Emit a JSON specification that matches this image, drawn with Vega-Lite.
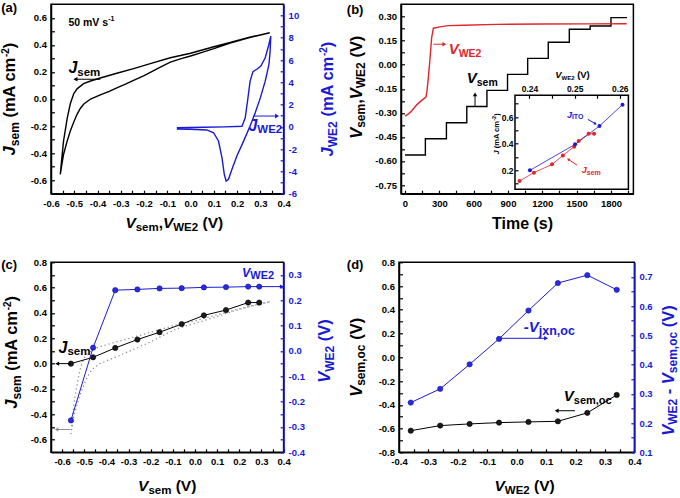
{
  "$schema": "https://vega.github.io/schema/vega-lite/v6.json",
  "background": "white",
  "padding": {"left": 0, "top": 1.3, "right": 0, "bottom": 0},
  "config": {
    "font": "Liberation Sans",
    "view": {"stroke": "black", "strokeWidth": 1.5},
    "axis": {"labelFont": "Liberation Sans", "labelFontWeight": "bold", "labelFontSize": 9.5, "labelColor": "black", "domainColor": "black", "domainWidth": 1.5, "tickColor": "black", "tickSize": -3.5, "tickWidth": 1.2, "grid": false, "labelPadding": 8, "labelOverlap": false, "labelFlush": false, "labelBound": false},
    "text": {"font": "Liberation Sans", "fontWeight": "bold", "baseline": "alphabetic", "align": "left", "color": "black"},
    "point": {"filled": true, "size": 26, "opacity": 1},
    "rule": {"strokeWidth": 1, "color": "black"}
  },
  "datasets": {
    "cvsem": [
      {"i":0,"v":-0.56,"j":-0.557},{"i":1,"v":-0.553,"j":-0.48},{"i":2,"v":-0.546,"j":-0.41},{"i":3,"v":-0.532,"j":-0.32},{"i":4,"v":-0.517,"j":-0.236},{"i":5,"v":-0.502,"j":-0.17},{"i":6,"v":-0.488,"j":-0.113},{"i":7,"v":-0.474,"j":-0.07},{"i":8,"v":-0.46,"j":-0.039},{"i":9,"v":-0.43,"j":0.0},{"i":10,"v":-0.388,"j":0.03},{"i":11,"v":-0.35,"j":0.057},{"i":12,"v":-0.317,"j":0.083},{"i":13,"v":-0.28,"j":0.11},{"i":14,"v":-0.245,"j":0.138},{"i":15,"v":-0.2,"j":0.172},{"i":16,"v":-0.173,"j":0.196},{"i":17,"v":-0.13,"j":0.235},{"i":18,"v":-0.087,"j":0.272},{"i":19,"v":-0.04,"j":0.298},{"i":20,"v":0.0,"j":0.318},{"i":21,"v":0.05,"j":0.345},{"i":22,"v":0.1,"j":0.372},{"i":23,"v":0.17,"j":0.413},{"i":24,"v":0.25,"j":0.452},{"i":25,"v":0.3,"j":0.472},{"i":26,"v":0.34,"j":0.49},
      {"i":27,"v":0.3,"j":0.474},{"i":28,"v":0.25,"j":0.455},{"i":29,"v":0.17,"j":0.418},{"i":30,"v":0.1,"j":0.386},{"i":31,"v":0.05,"j":0.362},{"i":32,"v":0.0,"j":0.338},{"i":33,"v":-0.087,"j":0.305},{"i":34,"v":-0.173,"j":0.262},{"i":35,"v":-0.245,"j":0.225},{"i":36,"v":-0.317,"j":0.19},{"i":37,"v":-0.388,"j":0.155},{"i":38,"v":-0.43,"j":0.133},{"i":39,"v":-0.46,"j":0.113},{"i":40,"v":-0.488,"j":0.075},{"i":41,"v":-0.502,"j":0.04},{"i":42,"v":-0.517,"j":-0.035},{"i":43,"v":-0.53,"j":-0.14},{"i":44,"v":-0.546,"j":-0.31},{"i":45,"v":-0.553,"j":-0.43},{"i":46,"v":-0.56,"j":-0.557}
    ],
    "cvwe2": [
      {"i":0,"v":-0.059,"j":-0.08},{"i":1,"v":0.056,"j":-0.04},{"i":2,"v":0.15,"j":0.0},{"i":3,"v":0.221,"j":0.05},{"i":4,"v":0.235,"j":0.82},{"i":5,"v":0.245,"j":2.32},{"i":6,"v":0.256,"j":4.11},{"i":7,"v":0.268,"j":4.95},{"i":8,"v":0.285,"j":5.17},{"i":9,"v":0.302,"j":5.46},{"i":10,"v":0.321,"j":6.2},{"i":11,"v":0.335,"j":7.26},{"i":12,"v":0.345,"j":8.15},
      {"i":13,"v":0.342,"j":6.8},{"i":14,"v":0.337,"j":5.6},{"i":15,"v":0.321,"j":4.1},{"i":16,"v":0.3,"j":2.6},{"i":17,"v":0.278,"j":1.26},{"i":18,"v":0.256,"j":0.07},{"i":19,"v":0.228,"j":-1.28},{"i":20,"v":0.199,"j":-2.62},{"i":21,"v":0.178,"j":-3.8},{"i":22,"v":0.163,"j":-4.7},{"i":23,"v":0.153,"j":-4.86},{"i":24,"v":0.145,"j":-4.26},{"i":25,"v":0.135,"j":-2.77},{"i":26,"v":0.12,"j":-1.27},{"i":27,"v":0.099,"j":-0.53},{"i":28,"v":0.07,"j":-0.28},{"i":29,"v":-0.001,"j":-0.22},{"i":30,"v":-0.059,"j":-0.19}
    ],
    "vsemt": [{"t":0,"v":-0.563},{"t":178,"v":-0.461},{"t":362,"v":-0.362},{"t":540,"v":-0.26},{"t":716,"v":-0.16},{"t":896,"v":-0.06},{"t":1072,"v":0.04},{"t":1252,"v":0.14},{"t":1436,"v":0.221},{"t":1618,"v":0.242},{"t":1800,"v":0.294},{"t":1940,"v":0.294}],
    "vwe2t": [{"t":0,"v":-0.32},{"t":30,"v":-0.306},{"t":58,"v":-0.288},{"t":102,"v":-0.25},{"t":146,"v":-0.222},{"t":184,"v":-0.2},{"t":194,"v":-0.15},{"t":204,"v":-0.08},{"t":219,"v":0.044},{"t":233,"v":0.169},{"t":248,"v":0.228},{"t":306,"v":0.236},{"t":379,"v":0.244},{"t":510,"v":0.246},{"t":801,"v":0.252},{"t":1200,"v":0.254},{"t":1600,"v":0.255},{"t":1937,"v":0.256}],
    "insetsem": [{"v":0.2378,"j":0.12},{"v":0.241,"j":0.183},{"v":0.245,"j":0.245},{"v":0.2474,"j":0.312},{"v":0.2499,"j":0.378},{"v":0.2509,"j":0.42},{"v":0.2531,"j":0.475},{"v":0.2543,"j":0.475}],
    "insetito": [{"v":0.2401,"j":0.2},{"v":0.2501,"j":0.395},{"v":0.2555,"j":0.533},{"v":0.2606,"j":0.693}],
    "cpts": [{"vs":-0.56,"js":0.0,"vw":-0.274},{"vs":-0.46,"js":0.05,"vw":0.013},{"vs":-0.36,"js":0.124,"vw":0.24},{"vs":-0.26,"js":0.19,"vw":0.243},{"vs":-0.16,"js":0.248,"vw":0.247},{"vs":-0.06,"js":0.312,"vw":0.248},{"vs":0.04,"js":0.381,"vw":0.251},{"vs":0.14,"js":0.423,"vw":0.252},{"vs":0.24,"js":0.482,"vw":0.254},{"vs":0.29,"js":0.482,"vw":0.254}],
    "dpts": [{"vw":-0.36,"vsoc":-0.618,"vj":0.27},{"vw":-0.26,"vsoc":-0.575,"vj":0.317},{"vw":-0.16,"vsoc":-0.561,"vj":0.401},{"vw":-0.06,"vsoc":-0.55,"vj":0.488},{"vw":0.04,"vsoc":-0.544,"vj":0.585},{"vw":0.14,"vsoc":-0.539,"vj":0.679},{"vw":0.24,"vsoc":-0.468,"vj":0.706},{"vw":0.34,"vsoc":-0.317,"vj":0.656}]
  },
  "spacing": 22,
  "vconcat": [
    {
      "spacing": 6,
      "hconcat": [
        {
          "width": 232.6, "height": 189.4,
          "resolve": {"scale": {"y": "independent"}},
          "layer": [
            {"layer": [
              {"data": {"name": "cvsem"}, "mark": {"type": "line", "color": "black", "strokeWidth": 1.4},
               "encoding": {
                 "x": {"field": "v", "type": "quantitative", "scale": {"domain": [-0.6, 0.4], "nice": false, "zero": false}, "axis": {"title": null, "tickCount": 1000, "labelOverlap": false, "values": [-0.6,-0.55,-0.5,-0.45,-0.4,-0.35,-0.3,-0.25,-0.2,-0.15,-0.1,-0.05,0,0.05,0.1,0.15,0.2,0.25,0.3,0.35,0.4], "labelExpr": "abs(datum.value*10-round(datum.value*10))<0.01 ? replace(format(datum.value,'.1f'),'−','-') : ''"}},
                 "y": {"field": "j", "type": "quantitative", "scale": {"domain": [-0.7, 0.7], "nice": false, "zero": false}, "axis": {"title": null, "tickCount": 1000, "labelOverlap": false, "values": [-0.6,-0.5,-0.4,-0.3,-0.2,-0.1,0,0.1,0.2,0.3,0.4,0.5,0.6], "labelExpr": "abs(datum.value*5-round(datum.value*5))<0.01 ? replace(format(datum.value,'.1f'),'−','-') : ''"}},
                 "order": {"field": "i", "type": "quantitative"}}},
              {"data": {"values": [{}]}, "layer": [
                {"mark": {"type": "text", "text": "(a)", "fontSize": 13, "align": "right", "baseline": "top", "dx": -34, "dy": -2}, "encoding": {"x": {"datum": -0.6}, "y": {"datum": 0.7}}},
                {"encoding": {"x": {"datum": -0.525}, "y": {"datum": 0.54}}, "layer": [
                  {"mark": {"type": "text", "text": "50 mV s", "fontSize": 10.5}},
                  {"mark": {"type": "text", "text": "-1", "fontSize": 7, "dx": 39.7, "dy": -4.5}}]},
                {"encoding": {"x": {"datum": -0.487}, "y": {"datum": 0.192}}, "layer": [
                  {"mark": {"type": "text", "text": "J", "fontSize": 16, "fontStyle": "italic", "align": "right"}},
                  {"mark": {"type": "text", "text": "sem", "fontSize": 11.5, "dy": 2.5}}]},
                {"mark": {"type": "rule", "color": "black"}, "encoding": {"x": {"datum": -0.388}, "x2": {"datum": -0.495}, "y": {"datum": 0.146}}},
                {"mark": {"type": "point", "shape": "triangle-left", "size": 22, "color": "black"}, "encoding": {"x": {"datum": -0.495}, "y": {"datum": 0.146}}},
                {"encoding": {"x": {"datum": -0.6}, "y": {"datum": 0}}, "layer": [
                  {"mark": {"type": "text", "text": "J", "fontSize": 16.5, "fontStyle": "italic", "angle": 270, "dx": -56.4, "dy": -35.7}},
                  {"mark": {"type": "text", "text": "sem", "fontSize": 12, "angle": 270, "dx": -47.2, "dy": -32.2}},
                  {"mark": {"type": "text", "text": "(mA cm", "fontSize": 16.5, "angle": 270, "dx": -18.6, "dy": -35.7}},
                  {"mark": {"type": "text", "text": "-2", "fontSize": 10, "angle": 270, "dx": 41.9, "dy": -42}},
                  {"mark": {"type": "text", "text": ")", "fontSize": 16.5, "angle": 270, "dx": 50.8, "dy": -35.7}}]},
                {"encoding": {"x": {"datum": -0.07}, "y": {"datum": -0.7}}, "layer": [
                  {"mark": {"type": "text", "text": "V", "fontSize": 15.5, "fontStyle": "italic", "dx": -48.9, "dy": 34.3}},
                  {"mark": {"type": "text", "text": "sem", "fontSize": 11.5, "dx": -38.6, "dy": 37.3}},
                  {"mark": {"type": "text", "text": ",", "fontSize": 15.5, "dx": -15.6, "dy": 34.3}},
                  {"mark": {"type": "text", "text": "V", "fontSize": 15.5, "fontStyle": "italic", "dx": -11.3, "dy": 34.3}},
                  {"mark": {"type": "text", "text": "WE2", "fontSize": 11.5, "dx": -1.0, "dy": 37.3}},
                  {"mark": {"type": "text", "text": "(V)", "fontSize": 15.5, "dx": 28.2, "dy": 34.3}}]}
              ]}
            ]},
            {"layer": [
              {"data": {"name": "cvwe2"}, "mark": {"type": "line", "color": "#1a1ad6", "strokeWidth": 1.4},
               "encoding": {
                 "x": {"field": "v", "type": "quantitative", "scale": {"domain": [-0.6, 0.4], "nice": false, "zero": false}},
                 "y": {"field": "j", "type": "quantitative", "scale": {"domain": [-6, 11], "nice": false, "zero": false}, "axis": {"title": null, "tickCount": 1000, "labelOverlap": false, "orient": "right", "values": [-6,-5,-4,-3,-2,-1,0,1,2,3,4,5,6,7,8,9,10], "labelExpr": "abs(datum.value%2)<0.01 ? replace(format(datum.value,'d'),'−','-') : ''", "domainColor": "#1a1ad6", "tickColor": "#1a1ad6", "labelColor": "#1a1ad6"}},
                 "order": {"field": "i", "type": "quantitative"}}},
              {"data": {"values": [{}]}, "layer": [
                {"encoding": {"x": {"datum": 0.287}, "y": {"datum": -0.37}}, "layer": [
                  {"mark": {"type": "text", "text": "J", "fontSize": 16, "fontStyle": "italic", "align": "right", "color": "#1a1ad6"}},
                  {"mark": {"type": "text", "text": "WE2", "fontSize": 11.5, "dy": 2.5, "color": "#1a1ad6"}}]},
                {"mark": {"type": "rule", "color": "#1a1ad6"}, "encoding": {"x": {"datum": 0.271}, "x2": {"datum": 0.372}, "y": {"datum": 0.97}}},
                {"mark": {"type": "point", "shape": "triangle-right", "size": 22, "color": "#1a1ad6"}, "encoding": {"x": {"datum": 0.372}, "y": {"datum": 0.97}}},
                {"encoding": {"x": {"datum": 0.4}, "y": {"datum": 2.5}}, "layer": [
                  {"mark": {"type": "text", "text": "J", "fontSize": 16.5, "fontStyle": "italic", "angle": 270, "dx": -57.4, "dy": 49.7, "color": "#1a1ad6"}},
                  {"mark": {"type": "text", "text": "WE2", "fontSize": 12, "angle": 270, "dx": -48.2, "dy": 53.2, "color": "#1a1ad6"}},
                  {"mark": {"type": "text", "text": "(mA cm", "fontSize": 16.5, "angle": 270, "dx": -17.6, "dy": 49.7, "color": "#1a1ad6"}},
                  {"mark": {"type": "text", "text": "-2", "fontSize": 10, "angle": 270, "dx": 42.9, "dy": 43.7, "color": "#1a1ad6"}},
                  {"mark": {"type": "text", "text": ")", "fontSize": 16.5, "angle": 270, "dx": 51.8, "dy": 49.7, "color": "#1a1ad6"}}]}
              ]}
            ]}
          ]
        },
        {
          "width": 232.4, "height": 189.4,
          "resolve": {"scale": {"x": "independent", "y": "independent"}},
          "layer": [
            {"layer": [
              {"data": {"name": "vsemt"}, "mark": {"type": "line", "color": "black", "strokeWidth": 1.4, "interpolate": "step-after"},
               "encoding": {
                 "x": {"field": "t", "type": "quantitative", "scale": {"domain": [-35, 1996], "nice": false, "zero": false}, "axis": {"title": null, "tickCount": 1000, "labelOverlap": false, "values": [0,150,300,450,600,750,900,1050,1200,1350,1500,1650,1800,1950], "labelExpr": "datum.value%300==0 ? format(datum.value,'d') : ''"}},
                 "y": {"field": "v", "type": "quantitative", "scale": {"domain": [-0.804, 0.377], "nice": false, "zero": false}, "axis": {"title": null, "tickCount": 1000, "labelOverlap": false, "values": [-0.75,-0.675,-0.6,-0.525,-0.45,-0.375,-0.3,-0.225,-0.15,-0.075,0,0.075,0.15,0.225,0.3], "labelExpr": "abs(datum.value/0.15-round(datum.value/0.15))<0.01 ? replace(format(datum.value,'.2f'),'−','-') : ''"}}}},
              {"data": {"name": "vwe2t"}, "mark": {"type": "line", "color": "#e3242b", "strokeWidth": 1.4},
               "encoding": {
                 "x": {"field": "t", "type": "quantitative", "scale": {"domain": [-35, 1996], "nice": false, "zero": false}},
                 "y": {"field": "v", "type": "quantitative", "scale": {"domain": [-0.804, 0.377], "nice": false, "zero": false}}}},
              {"data": {"values": [{}]}, "layer": [
                {"mark": {"type": "text", "text": "(b)", "fontSize": 13, "align": "right", "baseline": "top", "dx": -37.6, "dy": 0}, "encoding": {"x": {"datum": -35}, "y": {"datum": 0.377}}},
                {"encoding": {"x": {"datum": 469}, "y": {"datum": 0.065}}, "layer": [
                  {"mark": {"type": "text", "text": "V", "fontSize": 15, "fontStyle": "italic", "align": "right", "color": "#e3242b"}},
                  {"mark": {"type": "text", "text": "WE2", "fontSize": 10.5, "dy": 3, "color": "#e3242b"}}]},
                {"mark": {"type": "rule", "color": "#e3242b"}, "encoding": {"x": {"datum": 248}, "x2": {"datum": 344}, "y": {"datum": 0.128}}},
                {"mark": {"type": "point", "shape": "triangle-right", "size": 20, "color": "#e3242b"}, "encoding": {"x": {"datum": 344}, "y": {"datum": 0.128}}},
                {"encoding": {"x": {"datum": 627}, "y": {"datum": -0.112}}, "layer": [
                  {"mark": {"type": "text", "text": "V", "fontSize": 15, "fontStyle": "italic", "align": "right"}},
                  {"mark": {"type": "text", "text": "sem", "fontSize": 10.5, "dy": 3}}]},
                {"mark": {"type": "rule", "color": "black"}, "encoding": {"x": {"datum": 612}, "y": {"datum": -0.26}, "y2": {"datum": -0.185}}},
                {"mark": {"type": "point", "shape": "triangle-up", "size": 20, "color": "black"}, "encoding": {"x": {"datum": 612}, "y": {"datum": -0.185}}},
                {"encoding": {"x": {"datum": -35}, "y": {"datum": -0.14}}, "layer": [
                  {"mark": {"type": "text", "text": "V", "fontSize": 16.5, "fontStyle": "italic", "angle": 270, "dx": -51.6, "dy": -39.3}},
                  {"mark": {"type": "text", "text": "sem", "fontSize": 12, "angle": 270, "dx": -40.6, "dy": -35.8}},
                  {"mark": {"type": "text", "text": ",", "fontSize": 16.5, "angle": 270, "dx": -16.6, "dy": -39.3}},
                  {"mark": {"type": "text", "text": "V", "fontSize": 16.5, "fontStyle": "italic", "angle": 270, "dx": -12.0, "dy": -39.3}},
                  {"mark": {"type": "text", "text": "WE2", "fontSize": 12, "angle": 270, "dx": -1.0, "dy": -35.8}},
                  {"mark": {"type": "text", "text": "(V)", "fontSize": 16.5, "angle": 270, "dx": 29.6, "dy": -39.3}}]},
                {"mark": {"type": "text", "text": "Time (s)", "fontSize": 16, "align": "center", "dy": 35}, "encoding": {"x": {"datum": 1027}, "y": {"datum": -0.804}}}
              ]}
            ]},
            {"layer": [
              {"data": {"values": [{}]}, "mark": {"type": "rect", "fill": "white", "stroke": "black", "strokeWidth": 1.5},
               "encoding": {"x": {"datum": 0.2368}, "x2": {"datum": 0.2619}, "y": {"datum": 0.058}, "y2": {"datum": 0.763}}},
              {"data": {"name": "insetsem"}, "mark": {"type": "line", "color": "#e3242b", "strokeWidth": 0.8},
               "encoding": {
                 "x": {"field": "v", "type": "quantitative", "scale": {"domain": [0.2368, 0.2619], "range": [114, 227.4], "nice": false, "zero": false}, "axis": {"title": null, "tickCount": 1000, "labelOverlap": false, "orient": "top", "offset": -91, "zindex": 1, "domain": false, "tickSize": -3, "labelPadding": 5, "labelFontSize": 8.5, "values": [0.24,0.245,0.25,0.255,0.26], "labelExpr": "abs(datum.value*100-round(datum.value*100))<0.01 ? format(datum.value,'.2f') : ''"}},
                 "y": {"field": "j", "type": "quantitative", "scale": {"domain": [0.058, 0.763], "range": [185, 91], "nice": false, "zero": false}, "axis": {"title": null, "tickCount": 1000, "labelOverlap": false, "orient": "left", "offset": -114, "zindex": 1, "domain": false, "tickSize": -3, "labelPadding": 5, "labelFontSize": 8.5, "values": [0.1,0.2,0.3,0.4,0.5,0.6,0.7], "labelExpr": "abs(datum.value*5-round(datum.value*5))<0.01 ? format(datum.value,'.1f') : ''"}}}},
              {"data": {"name": "insetito"}, "mark": {"type": "line", "color": "#1a1ad6", "strokeWidth": 0.8},
               "encoding": {"x": {"field": "v", "type": "quantitative"}, "y": {"field": "j", "type": "quantitative"}}},
              {"data": {"name": "insetsem"}, "mark": {"type": "point", "color": "#e3242b", "size": 16},
               "encoding": {"x": {"field": "v", "type": "quantitative"}, "y": {"field": "j", "type": "quantitative"}}},
              {"data": {"name": "insetito"}, "mark": {"type": "point", "color": "#1a1ad6", "size": 16},
               "encoding": {"x": {"field": "v", "type": "quantitative"}, "y": {"field": "j", "type": "quantitative"}}},
              {"data": {"values": [{}]}, "layer": [
                {"encoding": {"x": {"datum": 0.2471}, "y": {"datum": 0.763}}, "layer": [
                  {"mark": {"type": "text", "text": "V", "fontSize": 9.5, "fontStyle": "italic", "align": "right", "dy": -17.3}},
                  {"mark": {"type": "text", "text": "WE2", "fontSize": 6, "dy": -15.5}},
                  {"mark": {"type": "text", "text": "(V)", "fontSize": 9.5, "dx": 15.6, "dy": -17.3}}]},
                {"encoding": {"x": {"datum": 0.2368}, "y": {"datum": 0.473}}, "layer": [
                  {"mark": {"type": "text", "text": "J", "fontSize": 7.5, "fontStyle": "italic", "angle": 270, "dx": -20.6, "dy": -16}},
                  {"mark": {"type": "text", "text": "(mA cm", "fontSize": 7.5, "angle": 270, "dx": -14.3, "dy": -16}},
                  {"mark": {"type": "text", "text": "-2", "fontSize": 5.5, "angle": 270, "dx": 13.2, "dy": -19}},
                  {"mark": {"type": "text", "text": ")", "fontSize": 7.5, "angle": 270, "dx": 18.1, "dy": -16}}]},
                {"encoding": {"x": {"datum": 0.2494}, "y": {"datum": 0.593}}, "layer": [
                  {"mark": {"type": "text", "text": "J", "fontSize": 9, "fontStyle": "italic", "align": "right", "color": "#1a1ad6"}},
                  {"mark": {"type": "text", "text": "ITO", "fontSize": 7, "dy": 1.5, "color": "#1a1ad6"}}]},
                {"mark": {"type": "rule", "color": "#1a1ad6"}, "encoding": {"x": {"datum": 0.2529}, "x2": {"datum": 0.2546}, "y": {"datum": 0.583}, "y2": {"datum": 0.55}}},
                {"mark": {"type": "point", "shape": "triangle-right", "size": 12, "angle": 30, "color": "#1a1ad6"}, "encoding": {"x": {"datum": 0.2546}, "y": {"datum": 0.55}}},
                {"encoding": {"x": {"datum": 0.2527}, "y": {"datum": 0.18}}, "layer": [
                  {"mark": {"type": "text", "text": "J", "fontSize": 9, "fontStyle": "italic", "align": "right", "color": "#e3242b"}},
                  {"mark": {"type": "text", "text": "sem", "fontSize": 7, "dy": 1.5, "color": "#e3242b"}}]},
                {"mark": {"type": "rule", "color": "#e3242b"}, "encoding": {"x": {"datum": 0.2505}, "x2": {"datum": 0.2486}, "y": {"datum": 0.24}, "y2": {"datum": 0.283}}},
                {"mark": {"type": "point", "shape": "triangle-left", "size": 12, "angle": 34, "color": "#e3242b"}, "encoding": {"x": {"datum": 0.2486}, "y": {"datum": 0.283}}}
              ]}
            ]}
          ]
        }
      ]
    },
    {
      "spacing": 9,
      "hconcat": [
        {
          "width": 232.6, "height": 190,
          "resolve": {"scale": {"y": "independent"}},
          "layer": [
            {"layer": [
              {"data": {"name": "cvsem"}, "mark": {"type": "line", "color": "#8c8c8c", "strokeWidth": 1.2, "strokeDash": [1.3, 2.8]},
               "encoding": {
                 "x": {"field": "v", "type": "quantitative", "scale": {"domain": [-0.65, 0.4], "nice": false, "zero": false}, "axis": {"title": null, "tickCount": 1000, "labelOverlap": false, "values": [-0.6,-0.55,-0.5,-0.45,-0.4,-0.35,-0.3,-0.25,-0.2,-0.15,-0.1,-0.05,0,0.05,0.1,0.15,0.2,0.25,0.3,0.35,0.4], "labelExpr": "abs(datum.value*10-round(datum.value*10))<0.01 ? replace(format(datum.value,'.1f'),'−','-') : ''"}},
                 "y": {"field": "j", "type": "quantitative", "scale": {"domain": [-0.7, 0.8], "nice": false, "zero": false}, "axis": {"title": null, "tickCount": 1000, "labelOverlap": false, "values": [-0.6,-0.5,-0.4,-0.3,-0.2,-0.1,0,0.1,0.2,0.3,0.4,0.5,0.6,0.7,0.8], "labelExpr": "abs(datum.value*5-round(datum.value*5))<0.01 ? replace(format(datum.value,'.1f'),'−','-') : ''"}},
                 "order": {"field": "i", "type": "quantitative"}}},
              {"data": {"name": "cpts"}, "mark": {"type": "line", "color": "black", "strokeWidth": 1},
               "encoding": {"x": {"field": "vs", "type": "quantitative"}, "y": {"field": "js", "type": "quantitative"}}},
              {"data": {"name": "cpts"}, "mark": {"type": "point", "color": "#1a1a1a", "stroke": "black", "strokeWidth": 0.6, "size": 28},
               "encoding": {"x": {"field": "vs", "type": "quantitative"}, "y": {"field": "js", "type": "quantitative"}}},
              {"data": {"values": [{}]}, "layer": [
                {"mark": {"type": "text", "text": "(c)", "fontSize": 13, "align": "right", "baseline": "top", "dx": -34, "dy": -3.3}, "encoding": {"x": {"datum": -0.65}, "y": {"datum": 0.8}}},
                {"encoding": {"x": {"datum": -0.576}, "y": {"datum": 0.085}}, "layer": [
                  {"mark": {"type": "text", "text": "J", "fontSize": 16, "fontStyle": "italic", "align": "right"}},
                  {"mark": {"type": "text", "text": "sem", "fontSize": 11.5, "dy": 2.5}}]},
                {"mark": {"type": "rule", "color": "black"}, "encoding": {"x": {"datum": -0.56}, "x2": {"datum": -0.622}, "y": {"datum": 0}}},
                {"mark": {"type": "point", "shape": "triangle-left", "size": 20, "color": "black"}, "encoding": {"x": {"datum": -0.622}, "y": {"datum": 0}}},
                {"mark": {"type": "rule", "color": "#8c8c8c"}, "encoding": {"x": {"datum": -0.563}, "x2": {"datum": -0.625}, "y": {"datum": -0.52}}},
                {"mark": {"type": "point", "shape": "triangle-left", "size": 18, "color": "#8c8c8c"}, "encoding": {"x": {"datum": -0.625}, "y": {"datum": -0.52}}},
                {"encoding": {"x": {"datum": -0.65}, "y": {"datum": 0.09}}, "layer": [
                  {"mark": {"type": "text", "text": "J", "fontSize": 16.5, "fontStyle": "italic", "angle": 270, "dx": -56.4, "dy": -34}},
                  {"mark": {"type": "text", "text": "sem", "fontSize": 12, "angle": 270, "dx": -47.2, "dy": -30.5}},
                  {"mark": {"type": "text", "text": "(mA cm", "fontSize": 16.5, "angle": 270, "dx": -18.6, "dy": -34}},
                  {"mark": {"type": "text", "text": "-2", "fontSize": 10, "angle": 270, "dx": 41.9, "dy": -40.3}},
                  {"mark": {"type": "text", "text": ")", "fontSize": 16.5, "angle": 270, "dx": 50.8, "dy": -34}}]},
                {"encoding": {"x": {"datum": -0.125}, "y": {"datum": -0.7}}, "layer": [
                  {"mark": {"type": "text", "text": "V", "fontSize": 15.5, "fontStyle": "italic", "dx": -29.2, "dy": 38.5}},
                  {"mark": {"type": "text", "text": "sem", "fontSize": 11.5, "dx": -18.9, "dy": 41.5}},
                  {"mark": {"type": "text", "text": "(V)", "fontSize": 15.5, "dx": 8.4, "dy": 38.5}}]}
              ]}
            ]},
            {"layer": [
              {"data": {"name": "cpts"}, "mark": {"type": "line", "color": "#1a1ad6", "strokeWidth": 1},
               "encoding": {
                 "x": {"field": "vs", "type": "quantitative", "scale": {"domain": [-0.65, 0.4], "nice": false, "zero": false}},
                 "y": {"field": "vw", "type": "quantitative", "scale": {"domain": [-0.4, 0.35], "nice": false, "zero": false}, "axis": {"title": null, "tickCount": 1000, "labelOverlap": false, "orient": "right", "values": [-0.4,-0.35,-0.3,-0.25,-0.2,-0.15,-0.1,-0.05,0,0.05,0.1,0.15,0.2,0.25,0.3], "labelExpr": "abs(datum.value*10-round(datum.value*10))<0.01 ? replace(format(datum.value,'.1f'),'−','-') : ''", "domainColor": "#1a1ad6", "tickColor": "#1a1ad6", "labelColor": "#1a1ad6"}}}},
              {"data": {"name": "cpts"}, "mark": {"type": "point", "color": "#2a2ae0", "stroke": "#1010a0", "strokeWidth": 0.6, "size": 28},
               "encoding": {"x": {"field": "vs", "type": "quantitative"}, "y": {"field": "vw", "type": "quantitative"}}},
              {"data": {"values": [{}]}, "layer": [
                {"encoding": {"x": {"datum": 0.25}, "y": {"datum": 0.292}}, "layer": [
                  {"mark": {"type": "text", "text": "V", "fontSize": 12.5, "fontStyle": "italic", "align": "right", "color": "#1a1ad6"}},
                  {"mark": {"type": "text", "text": "WE2", "fontSize": 11, "dy": 2.5, "color": "#1a1ad6"}}]},
                {"mark": {"type": "rule", "color": "#1a1ad6"}, "encoding": {"x": {"datum": 0.29}, "x2": {"datum": 0.392}, "y": {"datum": 0.254}}},
                {"mark": {"type": "point", "shape": "triangle-right", "size": 20, "color": "#1a1ad6"}, "encoding": {"x": {"datum": 0.392}, "y": {"datum": 0.254}}},
                {"encoding": {"x": {"datum": 0.4}, "y": {"datum": 0.0}}, "layer": [
                  {"mark": {"type": "text", "text": "V", "fontSize": 16.5, "fontStyle": "italic", "angle": 270, "dx": -31.8, "dy": 46.7, "color": "#1a1ad6"}},
                  {"mark": {"type": "text", "text": "WE2", "fontSize": 12, "angle": 270, "dx": -20.8, "dy": 50.2, "color": "#1a1ad6"}},
                  {"mark": {"type": "text", "text": "(V)", "fontSize": 16.5, "angle": 270, "dx": 9.8, "dy": 46.7, "color": "#1a1ad6"}}]}
              ]}
            ]}
          ]
        },
        {
          "width": 235.4, "height": 190,
          "resolve": {"scale": {"y": "independent"}},
          "layer": [
            {"layer": [
              {"data": {"name": "dpts"}, "mark": {"type": "line", "color": "black", "strokeWidth": 1},
               "encoding": {
                 "x": {"field": "vw", "type": "quantitative", "scale": {"domain": [-0.4, 0.4], "nice": false, "zero": false}, "axis": {"title": null, "tickCount": 1000, "labelOverlap": false, "values": [-0.4,-0.35,-0.3,-0.25,-0.2,-0.15,-0.1,-0.05,0,0.05,0.1,0.15,0.2,0.25,0.3,0.35,0.4], "labelExpr": "abs(datum.value*10-round(datum.value*10))<0.01 ? replace(format(datum.value,'.1f'),'−','-') : ''"}},
                 "y": {"field": "vsoc", "type": "quantitative", "scale": {"domain": [-0.8, 0.8], "nice": false, "zero": false}, "axis": {"title": null, "tickCount": 1000, "labelOverlap": false, "values": [-0.8,-0.7,-0.6,-0.5,-0.4,-0.3,-0.2,-0.1,0,0.1,0.2,0.3,0.4,0.5,0.6,0.7,0.8], "labelExpr": "abs(datum.value*5-round(datum.value*5))<0.01 ? replace(format(datum.value,'.1f'),'−','-') : ''"}}}},
              {"data": {"name": "dpts"}, "mark": {"type": "point", "color": "#1a1a1a", "stroke": "black", "strokeWidth": 0.6, "size": 28},
               "encoding": {"x": {"field": "vw", "type": "quantitative"}, "y": {"field": "vsoc", "type": "quantitative"}}},
              {"data": {"values": [{}]}, "layer": [
                {"mark": {"type": "text", "text": "(d)", "fontSize": 13, "align": "right", "baseline": "top", "dx": -35.6, "dy": -3.3}, "encoding": {"x": {"datum": -0.4}, "y": {"datum": 0.8}}},
                {"encoding": {"x": {"datum": 0.194}, "y": {"datum": -0.368}}, "layer": [
                  {"mark": {"type": "text", "text": "V", "fontSize": 15, "fontStyle": "italic", "align": "right"}},
                  {"mark": {"type": "text", "text": "sem,oc", "fontSize": 11, "dy": 3}}]},
                {"mark": {"type": "rule", "color": "black"}, "encoding": {"x": {"datum": 0.198}, "x2": {"datum": 0.136}, "y": {"datum": -0.45}}},
                {"mark": {"type": "point", "shape": "triangle-left", "size": 20, "color": "black"}, "encoding": {"x": {"datum": 0.136}, "y": {"datum": -0.45}}},
                {"encoding": {"x": {"datum": 0.075}, "y": {"datum": 0.213}}, "layer": [
                  {"mark": {"type": "text", "text": "-V", "fontSize": 15, "fontStyle": "italic", "align": "right", "color": "#1a1ad6"}},
                  {"mark": {"type": "text", "text": "jxn,oc", "fontSize": 12.5, "dy": 3, "color": "#1a1ad6"}}]},
                {"encoding": {"x": {"datum": -0.4}, "y": {"datum": 0}}, "layer": [
                  {"mark": {"type": "text", "text": "V", "fontSize": 16.5, "fontStyle": "italic", "angle": 270, "dx": -39.5, "dy": -37.3}},
                  {"mark": {"type": "text", "text": "sem,oc", "fontSize": 12, "angle": 270, "dx": -28.5, "dy": -33.8}},
                  {"mark": {"type": "text", "text": "(V)", "fontSize": 16.5, "angle": 270, "dx": 17.5, "dy": -37.3}}]},
                {"encoding": {"x": {"datum": 0.027}, "y": {"datum": -0.8}}, "layer": [
                  {"mark": {"type": "text", "text": "V", "fontSize": 15.5, "fontStyle": "italic", "dx": -30.1, "dy": 38.5}},
                  {"mark": {"type": "text", "text": "WE2", "fontSize": 11.5, "dx": -19.8, "dy": 41.5}},
                  {"mark": {"type": "text", "text": "(V)", "fontSize": 15.5, "dx": 9.4, "dy": 38.5}}]}
              ]}
            ]},
            {"layer": [
              {"data": {"name": "dpts"}, "mark": {"type": "line", "color": "#1a1ad6", "strokeWidth": 1},
               "encoding": {
                 "x": {"field": "vw", "type": "quantitative", "scale": {"domain": [-0.4, 0.4], "nice": false, "zero": false}},
                 "y": {"field": "vj", "type": "quantitative", "scale": {"domain": [0.1, 0.75], "nice": false, "zero": false}, "axis": {"title": null, "tickCount": 1000, "labelOverlap": false, "orient": "right", "values": [0.1,0.15,0.2,0.25,0.3,0.35,0.4,0.45,0.5,0.55,0.6,0.65,0.7], "labelExpr": "abs(datum.value*10-round(datum.value*10))<0.01 ? format(datum.value,'.1f') : ''", "domainColor": "#1a1ad6", "tickColor": "#1a1ad6", "labelColor": "#1a1ad6"}}}},
              {"data": {"name": "dpts"}, "mark": {"type": "point", "color": "#2a2ae0", "stroke": "#1010a0", "strokeWidth": 0.6, "size": 28},
               "encoding": {"x": {"field": "vw", "type": "quantitative"}, "y": {"field": "vj", "type": "quantitative"}}},
              {"data": {"values": [{}]}, "layer": [
                {"mark": {"type": "rule", "color": "#1a1ad6"}, "encoding": {"x": {"datum": -0.058}, "x2": {"datum": 0.1}, "y": {"datum": 0.49}}},
                {"mark": {"type": "point", "shape": "triangle-right", "size": 20, "color": "#1a1ad6"}, "encoding": {"x": {"datum": 0.1}, "y": {"datum": 0.49}}},
                {"encoding": {"x": {"datum": 0.4}, "y": {"datum": 0.38}}, "layer": [
                  {"mark": {"type": "text", "text": "V", "fontSize": 16.5, "fontStyle": "italic", "angle": 270, "dx": -65.4, "dy": 39.5, "color": "#1a1ad6"}},
                  {"mark": {"type": "text", "text": "WE2", "fontSize": 12, "angle": 270, "dx": -54.4, "dy": 43, "color": "#1a1ad6"}},
                  {"mark": {"type": "text", "text": "-", "fontSize": 16.5, "angle": 270, "dx": -23.8, "dy": 39.5, "color": "#1a1ad6"}},
                  {"mark": {"type": "text", "text": "V", "fontSize": 16.5, "fontStyle": "italic", "angle": 270, "dx": -13.7, "dy": 39.5, "color": "#1a1ad6"}},
                  {"mark": {"type": "text", "text": "sem,oc", "fontSize": 12, "angle": 270, "dx": -2.7, "dy": 43, "color": "#1a1ad6"}},
                  {"mark": {"type": "text", "text": "(V)", "fontSize": 16.5, "angle": 270, "dx": 43.3, "dy": 39.5, "color": "#1a1ad6"}}]}
              ]}
            ]}
          ]
        }
      ]
    }
  ]
}
